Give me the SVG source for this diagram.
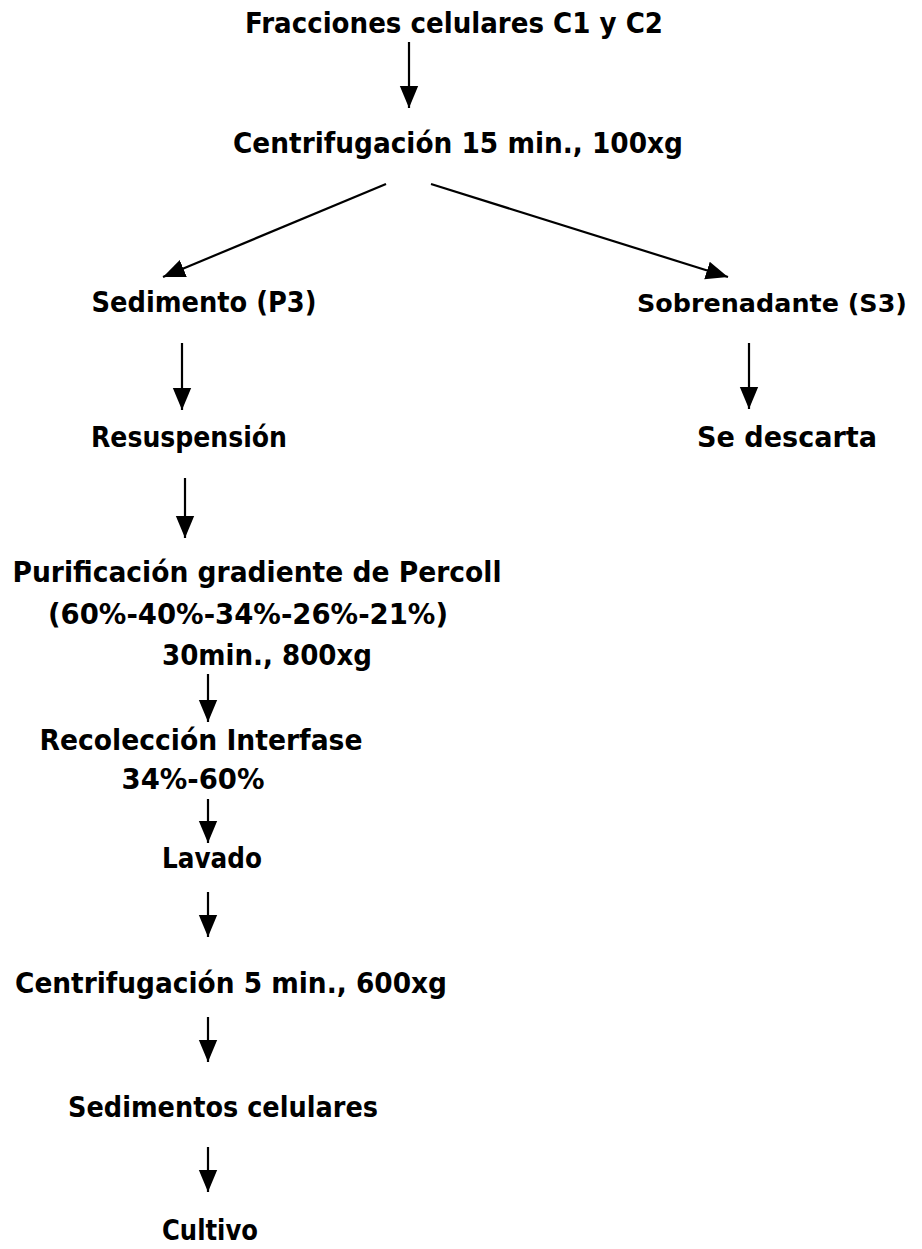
<svg xmlns="http://www.w3.org/2000/svg" width="922" height="1249" viewBox="0 0 922 1249">
<style>
text{font-family:"DejaVu Sans","Liberation Sans",sans-serif;font-weight:bold;font-size:28px;fill:#000;text-anchor:middle}
.c line{stroke:#000;stroke-width:2.2;marker-end:url(#ah)}
</style>
<defs>
<marker id="ah" markerUnits="userSpaceOnUse" markerWidth="22" markerHeight="22" refX="24" refY="10" orient="auto" viewBox="0 0 24 20">
<path d="M0,0 L24,10 L0,20 Z" fill="#000"/>
</marker>
</defs>
<rect width="922" height="1249" fill="#fff"/>
<g id="n1"><text x="454" y="33" textLength="418" lengthAdjust="spacingAndGlyphs">Fracciones celulares C1 y C2</text></g>
<g id="n2"><text x="458" y="153" textLength="450" lengthAdjust="spacingAndGlyphs">Centrifugación 15 min., 100xg</text></g>
<g id="n3"><text x="204" y="312" textLength="225" lengthAdjust="spacingAndGlyphs">Sedimento (P3)</text></g>
<g id="n4"><text x="772" y="312" style="font-size:25px" textLength="270" lengthAdjust="spacingAndGlyphs">Sobrenadante (S3)</text></g>
<g id="n5"><text x="189" y="447" textLength="196" lengthAdjust="spacingAndGlyphs">Resuspensión</text></g>
<g id="n6"><text x="787" y="447" textLength="180" lengthAdjust="spacingAndGlyphs">Se descarta</text></g>
<g id="n7"><text x="257" y="582" textLength="489" lengthAdjust="spacingAndGlyphs">Purificación gradiente de Percoll</text><text x="248" y="624" textLength="400" lengthAdjust="spacingAndGlyphs">(60%-40%-34%-26%-21%)</text><text x="267" y="665" textLength="210" lengthAdjust="spacingAndGlyphs">30min., 800xg</text></g>
<g id="n8"><text x="201" y="750" textLength="323" lengthAdjust="spacingAndGlyphs">Recolección Interfase</text><text x="193" y="789" textLength="143" lengthAdjust="spacingAndGlyphs">34%-60%</text></g>
<g id="n9"><text x="212" y="868" textLength="100" lengthAdjust="spacingAndGlyphs">Lavado</text></g>
<g id="n10"><text x="231" y="993" textLength="432" lengthAdjust="spacingAndGlyphs">Centrifugación 5 min., 600xg</text></g>
<g id="n11"><text x="223" y="1117" textLength="310" lengthAdjust="spacingAndGlyphs">Sedimentos celulares</text></g>
<g id="n12"><text x="210" y="1240" textLength="96" lengthAdjust="spacingAndGlyphs">Cultivo</text></g>
<g class="c" id="connectors">
<line x1="409" y1="42" x2="409" y2="108"/>
<line x1="386" y1="184" x2="163" y2="277"/>
<line x1="431" y1="184" x2="728" y2="277"/>
<line x1="182" y1="343" x2="182" y2="410"/>
<line x1="749" y1="343" x2="749" y2="409"/>
<line x1="185" y1="478" x2="185" y2="538"/>
<line x1="208" y1="674" x2="208" y2="722"/>
<line x1="208" y1="799" x2="208" y2="843"/>
<line x1="208" y1="892" x2="208" y2="937"/>
<line x1="208" y1="1017" x2="208" y2="1062"/>
<line x1="208" y1="1147" x2="208" y2="1192"/>
</g>
</svg>
